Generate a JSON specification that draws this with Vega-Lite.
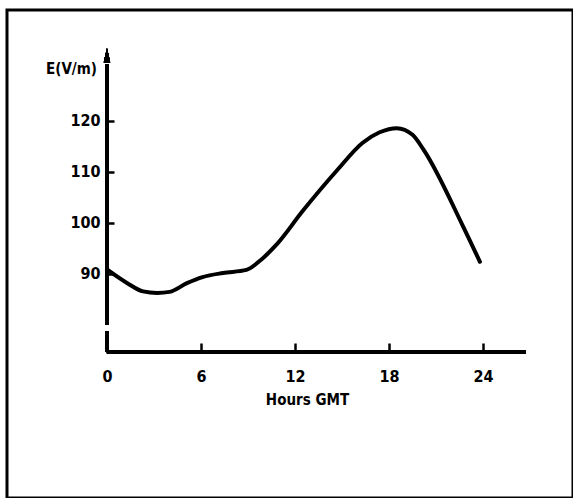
{
  "$schema": "https://vega.github.io/schema/vega-lite/v6.json",
  "width": 566,
  "height": 488,
  "padding": {"left": 7, "top": 10, "right": 0, "bottom": 0},
  "autosize": {"type": "none"},
  "background": "white",
  "config": {
    "view": {"stroke": "black", "strokeWidth": 3},
    "font": "Liberation Sans Narrow, DejaVu Sans Condensed, Liberation Sans, Arial",
    "axis": {
      "grid": false,
      "domain": false,
      "tickColor": "black",
      "tickWidth": 2.5,
      "labelColor": "black",
      "labelFontWeight": "bold",
      "labelFontSize": 16,
      "labelFont": "Liberation Sans Narrow, DejaVu Sans Condensed, Liberation Sans, Arial",
      "titleColor": "black",
      "titleFontWeight": "bold",
      "titleFont": "Liberation Sans Narrow, DejaVu Sans Condensed, Liberation Sans, Arial"
    }
  },
  "data": {
    "values": [
      {"hour": 0, "E": 90.8},
      {"hour": 1.3, "E": 88.1},
      {"hour": 2.3, "E": 86.5},
      {"hour": 3.2, "E": 86.2},
      {"hour": 4.0, "E": 86.4},
      {"hour": 5.1, "E": 88.1},
      {"hour": 6.1, "E": 89.3},
      {"hour": 7.4, "E": 90.1},
      {"hour": 8.9, "E": 90.7},
      {"hour": 9.8, "E": 92.6},
      {"hour": 10.8, "E": 95.6},
      {"hour": 12.5, "E": 102.3},
      {"hour": 14.7, "E": 110.3},
      {"hour": 16.3, "E": 115.6},
      {"hour": 17.4, "E": 117.7},
      {"hour": 18.5, "E": 118.5},
      {"hour": 19.5, "E": 117.2},
      {"hour": 20.2, "E": 114.3},
      {"hour": 22.7, "E": 99.4},
      {"hour": 23.8, "E": 92.3}
    ]
  },
  "encoding": {
    "x": {
      "field": "hour",
      "type": "quantitative",
      "scale": {"domain": [-6.38, 29.74], "nice": false, "zero": false},
      "axis": {
        "values": [0, 6, 12, 18, 24],
        "offset": -146,
        "tickSize": -9,
        "labelPadding": 25,
        "title": "Hours GMT",
        "titleFontSize": 15,
        "titleX": 300,
        "titleY": 47,
        "titleBaseline": "middle",
        "titleAlign": "center"
      }
    },
    "y": {
      "field": "E",
      "type": "quantitative",
      "scale": {"domain": [45.98, 141.67], "nice": false, "zero": false},
      "axis": {
        "values": [90, 100, 110, 120],
        "offset": -100,
        "tickSize": -7,
        "labelPadding": 14,
        "title": "E(V/m)",
        "titleFontSize": 15,
        "titleAngle": 0,
        "titleX": -36,
        "titleY": 58,
        "titleAlign": "center",
        "titleBaseline": "middle"
      }
    }
  },
  "layer": [
    {
      "mark": {"type": "rule", "color": "black", "strokeWidth": 4},
      "encoding": {
        "x": {"datum": 0},
        "x2": {"datum": 26.7},
        "y": {"datum": 74.6}
      }
    },
    {
      "mark": {"type": "rule", "color": "black", "strokeWidth": 3},
      "encoding": {
        "x": {"datum": 0},
        "y": {"datum": 74.6},
        "y2": {"datum": 78.6}
      }
    },
    {
      "mark": {"type": "rule", "color": "black", "strokeWidth": 3},
      "encoding": {
        "x": {"datum": 0},
        "y": {"datum": 80.0},
        "y2": {"datum": 131}
      }
    },
    {
      "mark": {"type": "point", "shape": "M0,-1L0.45,1L-0.45,1Z", "filled": true, "color": "black", "opacity": 1, "size": 196},
      "encoding": {
        "x": {"datum": 0},
        "y": {"datum": 132.8}
      }
    },
    {
      "mark": {"type": "line", "color": "black", "strokeWidth": 4, "interpolate": "monotone", "strokeCap": "round"}
    }
  ]
}
